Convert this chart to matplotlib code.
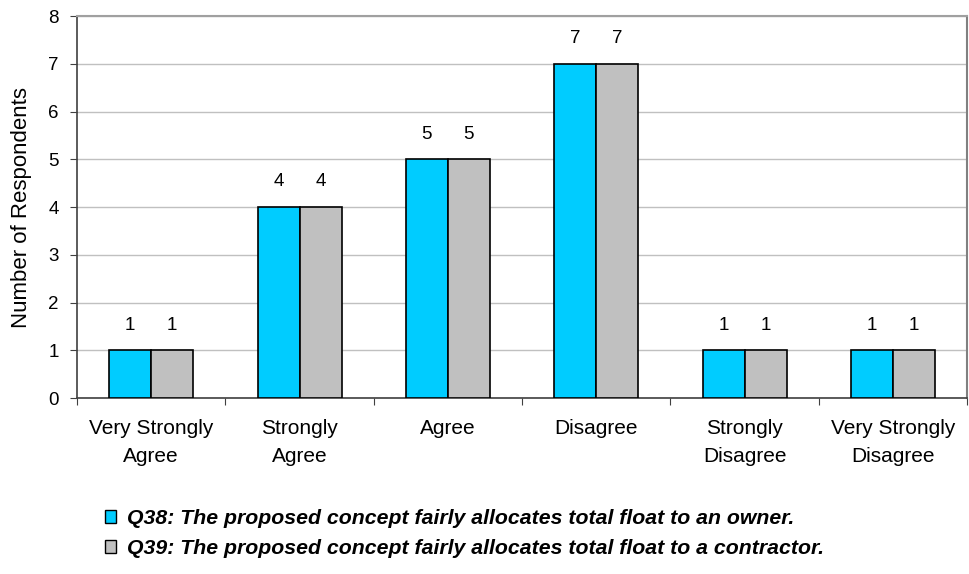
import numpy as np
import matplotlib.pyplot as plt
from matplotlib.patches import Patch

plt.rcParams['font.family'] = ['Liberation Sans', 'DejaVu Sans']

categories = ['Very Strongly\nAgree', 'Strongly\nAgree', 'Agree', 'Disagree',
              'Strongly\nDisagree', 'Very Strongly\nDisagree']
q38 = [1, 4, 5, 7, 1, 1]
q39 = [1, 4, 5, 7, 1, 1]
labels = ['Q38: The proposed concept fairly allocates total float to an owner.',
          'Q39: The proposed concept fairly allocates total float to a contractor.']

fig = plt.figure(figsize=(9.69, 5.74), dpi=100)
ax = fig.add_axes([0.0795, 0.3066, 0.9185, 0.6654])

x = np.arange(len(categories))
w = 0.283
b1 = ax.bar(x - w / 2, q38, w, color='#00CCFF', edgecolor='black', linewidth=1.2, zorder=3)
b2 = ax.bar(x + w / 2, q39, w, color='#C0C0C0', edgecolor='black', linewidth=1.2, zorder=3)

for bars in (b1, b2):
    for r in bars:
        ax.annotate(f'{int(r.get_height())}', (r.get_x() + r.get_width() / 2, r.get_height()),
                    xytext=(0, 12), textcoords='offset points', ha='center', va='bottom',
                    fontsize=13.5)

ax.set_xlim(-0.5, len(categories) - 0.5)
ax.set_ylim(0, 8)
ax.set_yticks(range(9))
ax.yaxis.grid(True, color='#C0C0C0', linewidth=1, zorder=0)
ax.set_ylabel('Number of Respondents', fontsize=16, labelpad=12)

# ticks between categories, labels centred
ax.set_xticks(np.arange(len(categories) + 1) - 0.5)
ax.set_xticklabels([])
ax.set_xticks(x, minor=True)
ax.set_xticklabels(categories, minor=True, fontsize=15, linespacing=1.6)
ax.tick_params(axis='x', which='minor', length=0, pad=15)
ax.tick_params(axis='x', which='major', length=5, color='#404040')
ax.tick_params(axis='y', length=5, labelsize=13.5, pad=8, color='#404040')

for s in ('left', 'bottom'):
    ax.spines[s].set_color('#404040')
    ax.spines[s].set_linewidth(1.2)
ax.spines['top'].set_color('#A0A0A0')
ax.spines['top'].set_linewidth(1.5)
ax.spines['right'].set_color('#808080')
ax.spines['right'].set_linewidth(1.5)

handles = [Patch(facecolor='#00CCFF', edgecolor='black'),
           Patch(facecolor='#C0C0C0', edgecolor='black')]
fig.legend(handles, labels, loc='upper left', bbox_to_anchor=(0.108, 0.113), frameon=False,
           prop={'size': 15.3, 'weight': 'bold', 'style': 'italic'},
           handlelength=0.55, handleheight=0.55, handletextpad=0.5, labelspacing=0.5,
           borderaxespad=0, borderpad=0)

fig.savefig('out.png', dpi=100)
